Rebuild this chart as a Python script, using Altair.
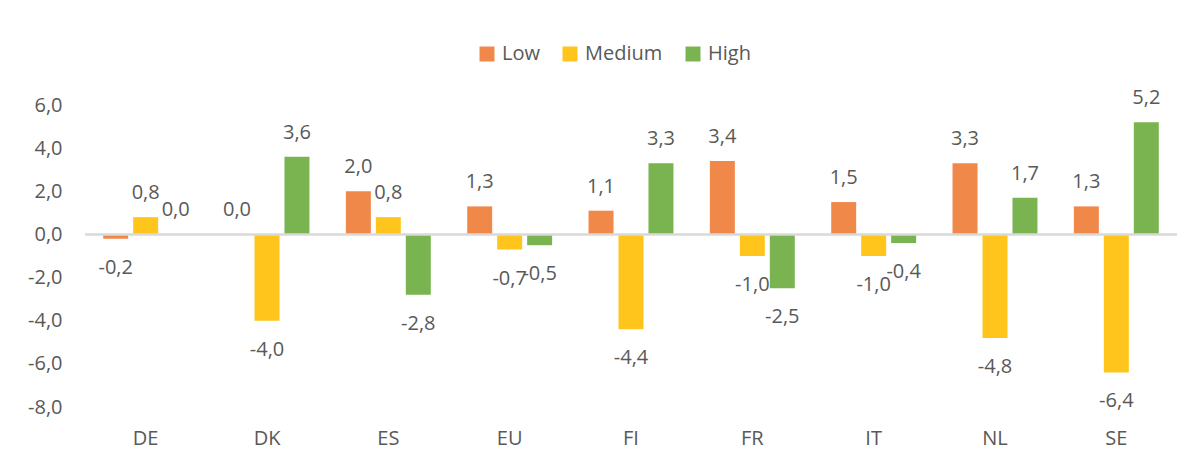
import altair as alt
import pandas as pd

countries = ["DE", "DK", "ES", "EU", "FI", "FR", "IT", "NL", "SE"]
levels = ["Low", "Medium", "High"]
low = [-0.2, 0.0, 2.0, 1.3, 1.1, 3.4, 1.5, 3.3, 1.3]
medium = [0.8, -4.0, 0.8, -0.7, -4.4, -1.0, -1.0, -4.8, -6.4]
high = [0.0, 3.6, -2.8, -0.5, 3.3, -2.5, -0.4, 1.7, 5.2]
colors = ["#F0884A", "#FFC51C", "#7AB451"]
y_ticks = [-8, -6, -4, -2, 0, 2, 4, 6]

rows = []
for lvl, vals in zip(levels, [low, medium, high]):
    for c, v in zip(countries, vals):
        rows.append({"country": c, "level": lvl, "value": v,
                     "label": f"{v:.1f}".replace(".", ",")})
df = pd.DataFrame(rows)

TXT = "#595959"
FS = 20

x = alt.X("country:N", sort=countries,
          scale=alt.Scale(paddingInner=0.3, paddingOuter=0.15),
          axis=alt.Axis(title=None, domain=False, ticks=False, labelAngle=0,
                        labelFontSize=FS, labelColor=TXT, labelPadding=31,
                        labelBaseline="middle"))
xo = alt.XOffset("level:N", sort=levels, scale=alt.Scale(paddingInner=1/6))
y = alt.Y("value:Q",
          scale=alt.Scale(domain=[-8, 6], nice=False, zero=False),
          axis=alt.Axis(title=None, values=y_ticks, grid=False, domain=False,
                        ticks=False, labelPadding=23, labelFontSize=FS,
                        labelColor=TXT,
                        labelExpr="replace(replace(format(datum.value, '.1f'), '.', ','), '\u2212', '-')"))
color = alt.Color("level:N", sort=levels,
                  scale=alt.Scale(domain=levels, range=colors),
                  legend=alt.Legend(title=None, orient="none", legendX=392,
                                    legendY=-61, direction="horizontal",
                                    symbolType="square", symbolSize=225,
                                    symbolStrokeWidth=0, labelFontSize=FS,
                                    labelColor=TXT, columnPadding=20,
                                    labelOffset=5))

base = alt.Chart(df)
bars = base.mark_bar().encode(x=x, xOffset=xo, y=y, y2=alt.datum(0), color=color)
pos = base.transform_filter("datum.value >= 0").mark_text(
    baseline="middle", dy=-24, fontSize=FS, color=TXT
).encode(x=x, xOffset=xo, y=y, text="label:N")
neg = base.transform_filter("datum.value < 0").mark_text(
    baseline="middle", dy=29, fontSize=FS, color=TXT
).encode(x=x, xOffset=xo, y=y, text="label:N")
zero = alt.Chart(pd.DataFrame({"value": [0]})).mark_rule(
    color="#D9D9D9", strokeWidth=2.5
).encode(y=alt.Y("value:Q"))

chart = alt.layer(bars, zero, pos, neg).properties(
    width=1092, height=302,
    padding={"left": 77, "top": 97, "right": 0, "bottom": 50},
    autosize=alt.AutoSizeParams(type="none"),
).configure(font="Open Sans").configure_view(
    strokeWidth=0, stroke="transparent"
).configure_axis(domain=False, grid=False, ticks=False)

chart.save("out.html", embed_options={"renderer": "svg", "actions": False})
